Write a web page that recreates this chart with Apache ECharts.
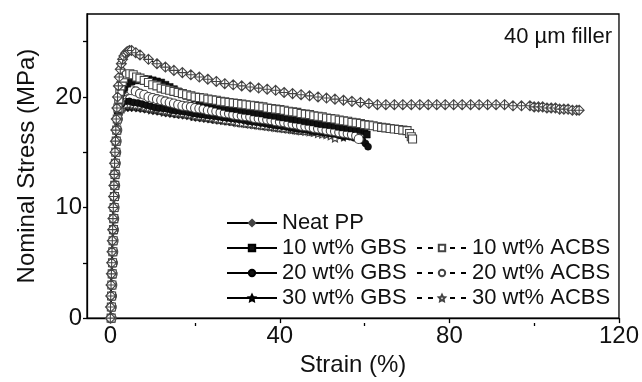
<!DOCTYPE html>
<html>
<head>
<meta charset="utf-8">
<script src="https://cdn.jsdelivr.net/npm/echarts@6/dist/echarts.min.js"></script>
<style>
  html, body { margin: 0; padding: 0; background: #fff; }
  #chart { width: 642px; height: 382px; }
</style>
</head>
<body>
<div id="chart"></div>
<script>
// Tick positions
const xTicks = [0, 40, 80, 120];
const xMinorTicks = [20, 60, 100];
const yLabels = [0, 10, 20];
const yTickMarks = [0, 5, 10, 15, 20, 25];

// Stress-strain curves: [strain %, nominal stress MPa]
const neatPP = [
  [0,0],[0.05,1],[0.1,2],[0.17,3],[0.25,4],[0.32,5],[0.4,6],[0.47,7],[0.55,8],[0.62,9],[0.7,10],
  [0.77,11],[0.85,12],[0.92,13],[1.0,14],[1.1,15],[1.2,16],[1.3,17],[1.4,18],[1.55,19],[1.7,20],
  [1.9,21],[2.1,21.8],[2.35,22.5],[2.6,23.0],[2.9,23.4],[3.2,23.7],[3.6,23.95],[4.0,24.1],[4.5,24.2],
  [5.0,24.2],[6.0,24.0],[7,23.8],[9,23.4],[11,23.0],
  [13,22.7],[15,22.4],[17,22.2],[19,22.0],[21,21.8],[23,21.6],[25,21.4],[27,21.2],[29,21.1],
  [31,21.0],[33,20.9],[35,20.8],[37,20.7],[39,20.6],[41,20.4],[43,20.3],[45,20.2],[47,20.1],
  [49,20.0],[51,19.9],[53,19.8],[55,19.7],[57,19.6],[59,19.5],[61,19.4],[63,19.3],[65,19.3],
  [67,19.3],[69,19.3],[71,19.3],[73,19.3],[75,19.3],[77,19.3],[79,19.3],[81,19.3],[83,19.3],
  [85,19.3],[87,19.3],[89,19.3],[91,19.3],[93,19.3],[95,19.2],[97,19.2],[99,19.2],[100,19.1],
  [101,19.1],[102,19.1],[103,19.0],[104,19.0],[105,19.0],[106,18.9],[107,18.9],[108,18.9],
  [109,18.8],[110,18.8],[110.6,18.8]
];

const gbs10 = [
  [0.1,0],[0.15,1],[0.2,2],[0.27,3],[0.35,4],[0.42,5],[0.5,6],[0.57,7],[0.65,8],[0.72,9],[0.8,10],
  [0.87,11],[0.95,12],[1.02,13],[1.1,14],[1.2,15],[1.3,16],[1.45,17],[1.6,18],[1.8,18.8],
  [2.0,19.5],[2.3,20.0],[2.6,20.4],[3.0,20.7],[3.3,20.9],[4,21.2],[5,21.4],[6,21.5],[7,21.55],[8,21.6],[9,21.6],
  [10,21.5],[11,21.4],[12,21.3],[13,21.1],[14,20.9],[15,20.7],[16,20.5],[17,20.3],[18,20.1],
  [19,20.0],[20,19.85],[21,19.7],[22,19.6],[23,19.5],[24,19.4],[25,19.3],[26,19.2],[27,19.1],
  [28,19.0],[29,18.95],[30,18.9],[31,18.8],[32,18.75],[33,18.7],[34,18.6],[35,18.55],[36,18.5],
  [37,18.4],[38,18.35],[39,18.3],[40,18.2],[41,18.15],[42,18.1],[43,18.0],[44,17.95],[45,17.9],
  [46,17.8],[47,17.75],[48,17.7],[49,17.6],[50,17.55],[51,17.5],[52,17.45],[53,17.4],[54,17.3],
  [55,17.25],[56,17.2],[57,17.15],[58,17.1],[59,17.0],[60,16.9],[60.5,16.6]
];

const acbs10 = [
  [0.2,0],[0.25,1],[0.3,2],[0.37,3],[0.45,4],[0.52,5],[0.6,6],[0.67,7],[0.75,8],[0.82,9],[0.9,10],
  [0.97,11],[1.05,12],[1.12,13],[1.2,14],[1.3,15],[1.4,16],[1.52,17],[1.65,18],[1.8,19],
  [2.0,19.8],[2.25,20.5],[2.5,21.0],[2.8,21.4],[3.1,21.7],[3.8,22.0],[4.6,22.1],[5.4,22.0],[6.2,21.8],[7,21.7],[8,21.5],
  [9,21.3],[10,21.1],[11,21.0],[12,20.8],[13,20.7],[14,20.6],[15,20.5],[16,20.4],[17,20.3],
  [18,20.2],[19,20.1],[20,20.0],[21,19.95],[22,19.9],[23,19.8],[24,19.75],[25,19.7],[26,19.6],
  [27,19.55],[28,19.5],[29,19.45],[30,19.4],[31,19.35],[32,19.3],[33,19.25],[34,19.2],[35,19.15],
  [36,19.1],[37,19.0],[38,18.95],[39,18.9],[40,18.85],[41,18.8],[42,18.7],[43,18.65],[44,18.6],
  [45,18.5],[46,18.45],[47,18.4],[48,18.3],[49,18.25],[50,18.2],[51,18.1],[52,18.05],[53,18.0],
  [54,17.9],[55,17.85],[56,17.8],[57,17.7],[58,17.65],[59,17.6],[60,17.5],[61,17.45],[62,17.4],
  [63,17.3],[64,17.25],[65,17.2],[66,17.15],[67,17.1],[68,17.05],[69,17.0],[70,16.95],
  [70.6,16.7],[71,16.4],[71.3,16.2]
];

const gbs20 = [
  [0.05,0],[0.1,1],[0.15,2],[0.22,3],[0.3,4],[0.37,5],[0.45,6],[0.52,7],[0.6,8],[0.67,9],[0.75,10],
  [0.82,11],[0.9,12],[0.97,13],[1.05,14],[1.15,15],[1.25,16],[1.4,17],[1.55,18],[1.75,18.6],
  [2.0,19.0],[2.3,19.25],[2.7,19.4],[3.5,19.6],[4.5,19.6],[5.5,19.5],[6.5,19.45],[7.5,19.35],[8.5,19.25],
  [9.5,19.15],[10.5,19.05],[11.5,19.0],[12.5,18.95],[13.5,18.9],[14.5,18.8],[15.5,18.75],
  [16.5,18.7],[17.5,18.65],[18.5,18.6],[19.5,18.5],[20.5,18.45],[21.5,18.4],[22.5,18.35],
  [23.5,18.3],[24.5,18.25],[25.5,18.2],[26.5,18.15],[27.5,18.1],[28.5,18.05],[29.5,18.0],
  [30.5,17.95],[31.5,17.9],[32.5,17.8],[33.5,17.75],[34.5,17.7],[35.5,17.65],[36.5,17.6],
  [37.5,17.5],[38.5,17.45],[39.5,17.4],[40.5,17.35],[41.5,17.3],[42.5,17.2],[43.5,17.15],
  [44.5,17.1],[45.5,17.05],[46.5,17.0],[47.5,16.9],[48.5,16.85],[49.5,16.8],[50.5,16.75],
  [51.5,16.7],[52.5,16.65],[53.5,16.6],[54.5,16.5],[55.5,16.45],[56.5,16.4],[57.5,16.3],
  [58.5,16.2],[59.5,16.05],[60.2,15.8],[60.8,15.5]
];

const acbs20 = [
  [0.3,0],[0.35,1],[0.4,2],[0.47,3],[0.55,4],[0.62,5],[0.7,6],[0.77,7],[0.85,8],[0.92,9],[1.0,10],
  [1.07,11],[1.15,12],[1.22,13],[1.3,14],[1.4,15],[1.5,16],[1.65,17],[1.8,18],[2.0,18.8],
  [2.2,19.5],[2.5,19.9],[2.8,20.2],[3.5,20.5],[4.3,20.6],[5,20.6],[6,20.5],[7,20.3],[8,20.2],[9,20.0],
  [10,19.9],[11,19.8],[12,19.7],[13,19.6],[14,19.5],[15,19.4],[16,19.3],[17,19.2],[18,19.15],
  [19,19.1],[20,19.0],[21,18.95],[22,18.9],[23,18.8],[24,18.75],[25,18.7],[26,18.6],[27,18.55],
  [28,18.5],[29,18.4],[30,18.35],[31,18.3],[32,18.25],[33,18.2],[34,18.1],[35,18.05],[36,18.0],
  [37,17.95],[38,17.9],[39,17.8],[40,17.75],[41,17.7],[42,17.6],[43,17.55],[44,17.5],[45,17.4],
  [46,17.35],[47,17.3],[48,17.2],[49,17.15],[50,17.1],[51,17.0],[52,16.95],[53,16.9],[54,16.8],
  [55,16.75],[56,16.7],[57,16.6],[58,16.5],[58.6,16.2]
];

const gbs30 = [
  [0.0,0],[0.05,1],[0.1,2],[0.17,3],[0.25,4],[0.32,5],[0.4,6],[0.47,7],[0.55,8],[0.62,9],[0.7,10],
  [0.77,11],[0.85,12],[0.92,13],[1.0,14],[1.1,15],[1.2,16],[1.35,17],[1.5,17.8],[1.75,18.2],
  [2.0,18.5],[2.4,18.7],[2.8,18.85],[3.7,19.0],[4.6,19.0],[5.5,19.0],[6.5,18.95],[7.5,18.9],[8.5,18.85],
  [9.5,18.75],[10.5,18.7],[11.5,18.65],[12.5,18.55],[13.5,18.5],[14.5,18.45],[15.5,18.4],
  [16.5,18.35],[17.5,18.3],[18.5,18.25],[19.5,18.15],[20.5,18.1],[21.5,18.05],[22.5,18.0],
  [23.5,17.95],[24.5,17.9],[25.5,17.85],[26.5,17.8],[27.5,17.75],[28.5,17.7],[29.5,17.65],
  [30.5,17.6],[31.5,17.55],[32.5,17.5],[33.5,17.45],[34.5,17.4],[35.5,17.35],[36.5,17.3],
  [37.5,17.25],[38.5,17.2],[39.5,17.15],[40.5,17.1],[41.5,17.05],[42.5,17.0],[43.5,16.95],
  [44.5,16.9],[45.5,16.9],[46.5,16.85],[47.5,16.8],[48.5,16.8],[49.5,16.75],[50.5,16.7],
  [51.5,16.7],[52.5,16.65],[53.5,16.6],[54.3,16.5],[55,16.3]
];

const acbs30 = [
  [0.25,0],[0.3,1],[0.35,2],[0.42,3],[0.5,4],[0.57,5],[0.65,6],[0.72,7],[0.8,8],[0.87,9],[0.95,10],
  [1.02,11],[1.1,12],[1.17,13],[1.25,14],[1.35,15],[1.45,16],[1.6,17],[1.75,17.9],[1.95,18.4],
  [2.2,18.7],[2.5,18.95],[2.9,19.1],[3.7,19.3],[4.5,19.35],[5.3,19.3],[6,19.25],[7,19.2],[8,19.1],[9,19.0],
  [10,18.95],[11,18.9],[12,18.8],[13,18.75],[14,18.7],[15,18.6],[16,18.55],[17,18.5],[18,18.45],
  [19,18.4],[20,18.3],[21,18.25],[22,18.2],[23,18.15],[24,18.1],[25,18.0],[26,17.95],[27,17.9],
  [28,17.85],[29,17.8],[30,17.7],[31,17.65],[32,17.6],[33,17.55],[34,17.5],[35,17.45],[36,17.4],
  [37,17.35],[38,17.3],[39,17.25],[40,17.2],[41,17.15],[42,17.1],[43,17.05],[44,17.0],[45,16.95],
  [46,16.9],[47,16.85],[48,16.8],[49,16.7],[50,16.65],[51,16.6],[52,16.5],[53,16.3]
];

const FONT = '"Liberation Sans", Arial, Helvetica, sans-serif';
const CROSSED_DIAMOND = 'path://M0,-10L10,0L0,10L-10,0ZM0,-10L0,10M-10,0L10,0';
const STAR = 'path://M0,-10L2.9,-4L9.5,-3.1L4.7,1.5L5.9,8.1L0,5L-5.9,8.1L-4.7,1.5L-9.5,-3.1L-2.9,-4Z';

// Plot frame (pixels)
const GRID = { left: 87, right: 22, top: 14, bottom: 59 };
const PLOT_H = 382 - GRID.top - GRID.bottom;

function curve(name, data, symbol, size, filled, dashed) {
  return {
    name: name,
    type: 'line',
    data: data,
    symbol: symbol,
    symbolSize: size,
    showSymbol: true,
    showAllSymbol: true,
    xAxisIndex: 0,
    yAxisIndex: 0,
    lineStyle: { color: '#000', width: 1.3, type: dashed ? [5, 6] : 'solid' },
    itemStyle: filled
      ? { color: '#111', borderColor: '#000', borderWidth: 0.5 }
      : { color: '#fff', borderColor: '#444', borderWidth: 1.1 },
    emphasis: { disabled: true }
  };
}

const chart = echarts.init(document.getElementById('chart'), null, { renderer: 'canvas' });

const axisText = { fontFamily: FONT, fontSize: 24, color: '#111' };
const legendText = { fontFamily: FONT, fontSize: 22, color: '#111', lineHeight: 22 };
const tickLine = { color: '#000', width: 1.3 };

chart.setOption({
  animation: false,
  backgroundColor: '#fff',
  grid: Object.assign({
    show: true, borderColor: '#000', borderWidth: 1.3, backgroundColor: 'transparent'
  }, GRID),
  xAxis: [
    {
      type: 'value', min: -5.5, max: 120, position: 'bottom',
      axisLine: { show: true, onZero: false, lineStyle: tickLine },
      axisTick: { show: true, customValues: xTicks, length: 5, lineStyle: tickLine },
      axisLabel: Object.assign({ customValues: xTicks, margin: 6 }, axisText),
      splitLine: { show: false },
      name: 'Strain (%)', nameLocation: 'middle', nameGap: 33,
      nameTextStyle: axisText
    },
    {
      // short minor ticks along the bottom edge
      type: 'value', min: -5.5, max: 120, position: 'top', offset: -PLOT_H,
      axisLine: { show: false, onZero: false },
      axisTick: { show: true, inside: true, customValues: xMinorTicks, length: 3, lineStyle: tickLine },
      axisLabel: { show: false },
      splitLine: { show: false }
    }
  ],
  yAxis: {
    type: 'value', min: 0, max: 27.5, position: 'left',
    axisLine: { show: true, onZero: false, lineStyle: tickLine },
    axisTick: { show: true, customValues: yTickMarks, length: 4, lineStyle: tickLine },
    axisLabel: Object.assign({ customValues: yLabels, margin: 5 }, axisText),
    splitLine: { show: false },
    name: 'Nominal Stress (MPa)', nameLocation: 'middle', nameGap: 48,
    nameTextStyle: axisText
  },
  legend: [
    {
      data: ['Neat PP', '10 wt% GBS', '20 wt% GBS', '30 wt% GBS'],
      orient: 'vertical', left: 226, top: 212, padding: 0,
      itemWidth: 50, itemHeight: 8, itemGap: 3, selectedMode: false,
      textStyle: legendText
    },
    {
      data: ['10 wt% ACBS', '20 wt% ACBS', '30 wt% ACBS'],
      orient: 'vertical', left: 416, top: 237, padding: 0,
      itemWidth: 50, itemHeight: 8, itemGap: 3, selectedMode: false,
      textStyle: legendText
    }
  ],
  graphic: [
    {
      type: 'text', right: 30, top: 26,
      style: { text: '40 µm filler', fontFamily: FONT, fontSize: 22, fill: '#111' }
    }
  ],
  series: [
    curve('30 wt% GBS', gbs30, STAR, 7, true, false),
    curve('30 wt% ACBS', acbs30, STAR, 8, false, true),
    curve('20 wt% GBS', gbs20, 'circle', 7, true, false),
    curve('20 wt% ACBS', acbs20, 'circle', 9, false, true),
    curve('10 wt% GBS', gbs10, 'rect', 7, true, false),
    curve('10 wt% ACBS', acbs10, 'rect', 8, false, true),
    curve('Neat PP', neatPP, CROSSED_DIAMOND, 10, false, false)
  ]
});
</script>
</body>
</html>
